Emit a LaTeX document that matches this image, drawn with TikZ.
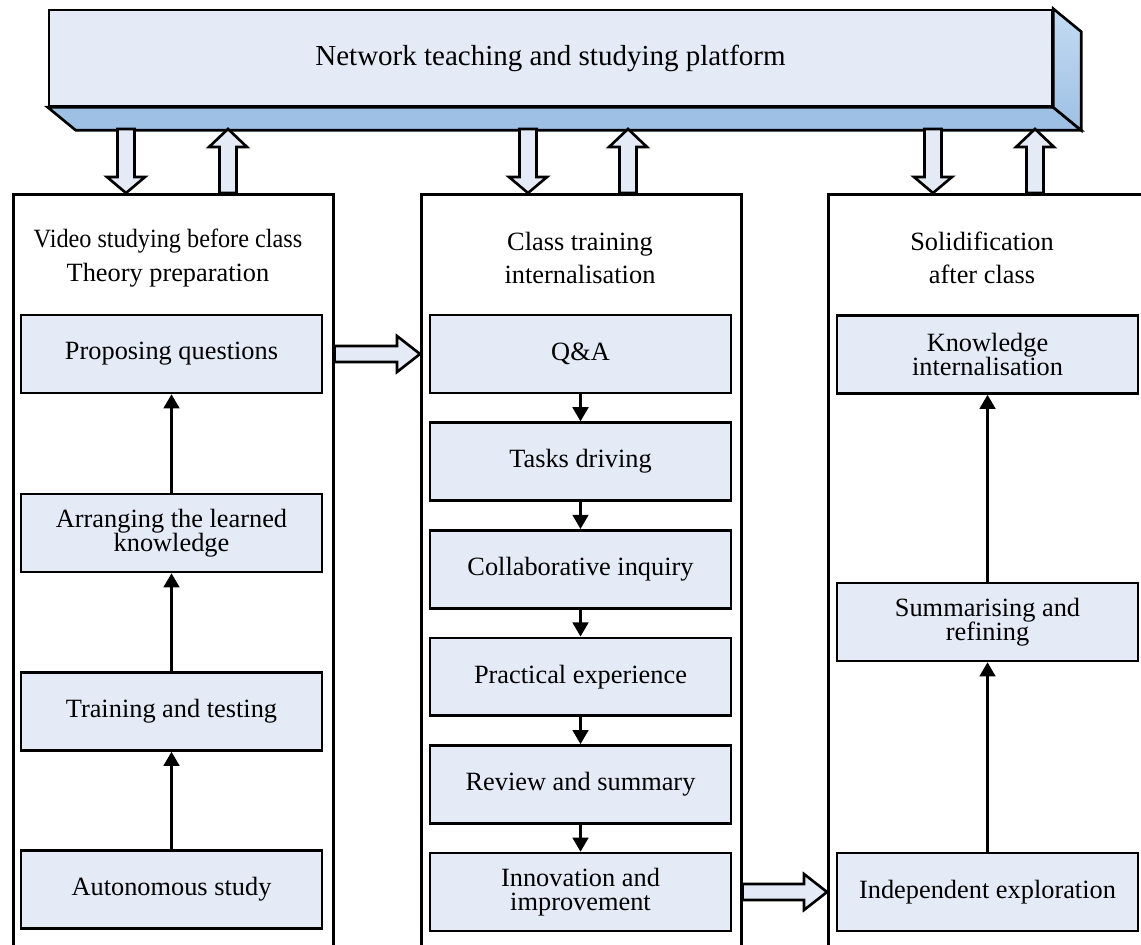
\documentclass[tikz,border=0pt]{standalone}
\usepackage{fontspec}
\setmainfont{Liberation Serif}
\usepackage{tikz}
\usetikzlibrary{positioning}
\usetikzlibrary{calc, arrows.meta}

\definecolor{boxfill}{HTML}{E4EBF6}
\definecolor{facedark}{HTML}{9DC0E4}
\definecolor{facelight}{HTML}{C4DBF2}

\tikzset{
  platform/.style={draw, line width=1.5pt, fill=boxfill, minimum width=20.06cm,
    minimum height=1.92cm, inner sep=0pt, font=\fontsize{16.5}{20}\selectfont},
  column/.style={draw, line width=1.5pt, minimum width=6.4cm, minimum height=15.6cm,
    anchor=north west, inner sep=0pt},
  heading/.style={align=center, font=\fontsize{15}{19}\selectfont},
  stagebox/.style={draw, line width=1.5pt, fill=boxfill, minimum width=6.02cm,
    minimum height=1.56cm, inner sep=0pt, align=center, font=\fontsize{15}{14}\selectfont},
  flow/.style={line width=1.3pt, -{Triangle[width=9pt,length=8pt]}},
  hollow/.style={draw, line width=1.5pt, fill=boxfill, line join=miter},
}

% hollow block arrow: from, to, half shaft, half head, head length
\newcommand{\blockarrow}[5]{%
  \coordinate (hb) at ($(#2)!#5!(#1)$);
  \draw[hollow] ($(#1)!#3!90:(#2)$) -- ($(hb)!#3!90:(#2)$) -- ($(hb)!#4!90:(#2)$)
    -- (#2) -- ($(hb)!#4!-90:(#2)$) -- ($(hb)!#3!-90:(#2)$) -- ($(#1)!#3!-90:(#2)$) -- cycle;}

\begin{document}
\begin{tikzpicture}[x=0.02cm, y=-0.02cm]
    \useasboundingbox (0,0) rectangle (1141,944);

    % Platform
    \node[platform] (plat) at (550.5,58) {Network teaching and studying platform};
    \draw[line width=1.5pt, fill=facedark] (plat.south west) -- ++(28,23)
        -- ($(plat.south east)+(28,23)$) -- (plat.south east) -- cycle;
    \draw[line width=1.5pt, top color=facelight, bottom color=facedark] (plat.north east)
        -- ++(28,23) -- ($(plat.south east)+(28,23)$) -- (plat.south east) -- cycle;

    % Columns
    \node[column] (colL) at (12,193) {};
    \node[column] (colM) at (420,193) {};
    \node[column] (colR) at (827,193) {};

    \node[heading] (hL) at (168,258) {\scalebox{0.92}[1]{Video studying before class}\\Theory preparation};
    \node[heading] (hM) at (580,258) {Class training\\internalisation};
    \node[heading] (hR) at (982,258) {Solidification\\after class};

    % Nodes
    \node[stagebox] (prop) at (171.5,354) {Proposing questions};
    \node[stagebox] (arrange) at (171.5,533) {Arranging the learned\\knowledge};
    \node[stagebox] (train) at (171.5,711.5) {Training and testing};
    \node[stagebox] (auto) at (171.5,889.5) {Autonomous study};

    \node[stagebox] (qa) at (580.5,354) {Q\&A};
    \node[stagebox] (tasks) at (580.5,461.6) {Tasks driving};
    \node[stagebox] (collab) at (580.5,569.2) {Collaborative inquiry};
    \node[stagebox] (practical) at (580.5,676.8) {Practical experience};
    \node[stagebox] (review) at (580.5,784.4) {Review and summary};
    \node[stagebox] (innov) at (580.5,892) {Innovation and\\improvement};

    \node[stagebox] (know) at (987.5,354.5) {Knowledge\\internalisation};
    \node[stagebox] (summ) at (987.5,622) {Summarising and\\refining};
    \node[stagebox] (indep) at (987.5,892) {Independent exploration};

    % Edges
    \draw[flow] (auto) -- (train);
    \draw[flow] (train) -- (arrange);
    \draw[flow] (arrange) -- (prop);

    \draw[flow] (qa) -- (tasks);
    \draw[flow] (tasks) -- (collab);
    \draw[flow] (collab) -- (practical);
    \draw[flow] (practical) -- (review);
    \draw[flow] (review) -- (innov);

    \draw[flow] (indep) -- (summ);
    \draw[flow] (summ) -- (know);

    % Block arrows
    \coordinate (dLa) at (126,129);  \coordinate (dLb) at (dLa |- colL.north);
    \coordinate (uLa) at (228,129);  \coordinate (uLb) at (uLa |- colL.north);
    \coordinate (dMa) at (528,129);  \coordinate (dMb) at (dMa |- colM.north);
    \coordinate (uMa) at (628,129);  \coordinate (uMb) at (uMa |- colM.north);
    \coordinate (dRa) at (933,129);  \coordinate (dRb) at (dRa |- colR.north);
    \coordinate (uRa) at (1035,129); \coordinate (uRb) at (uRa |- colR.north);
    \coordinate (pqA) at (colL.east |- prop); \coordinate (pqB) at (colM.west |- prop);
    \coordinate (ieA) at (colM.east |- innov); \coordinate (ieB) at (colR.west |- innov);

    \blockarrow{dLa}{dLb}{0.17cm}{0.38cm}{0.32cm}
    \blockarrow{uLb}{uLa}{0.17cm}{0.38cm}{0.36cm}
    \blockarrow{dMa}{dMb}{0.17cm}{0.38cm}{0.32cm}
    \blockarrow{uMb}{uMa}{0.17cm}{0.38cm}{0.36cm}
    \blockarrow{dRa}{dRb}{0.17cm}{0.38cm}{0.32cm}
    \blockarrow{uRb}{uRa}{0.17cm}{0.38cm}{0.36cm}
    \blockarrow{pqA}{pqB}{0.16cm}{0.36cm}{0.46cm}
    \blockarrow{ieA}{ieB}{0.16cm}{0.36cm}{0.46cm}
\end{tikzpicture}
\end{document}
